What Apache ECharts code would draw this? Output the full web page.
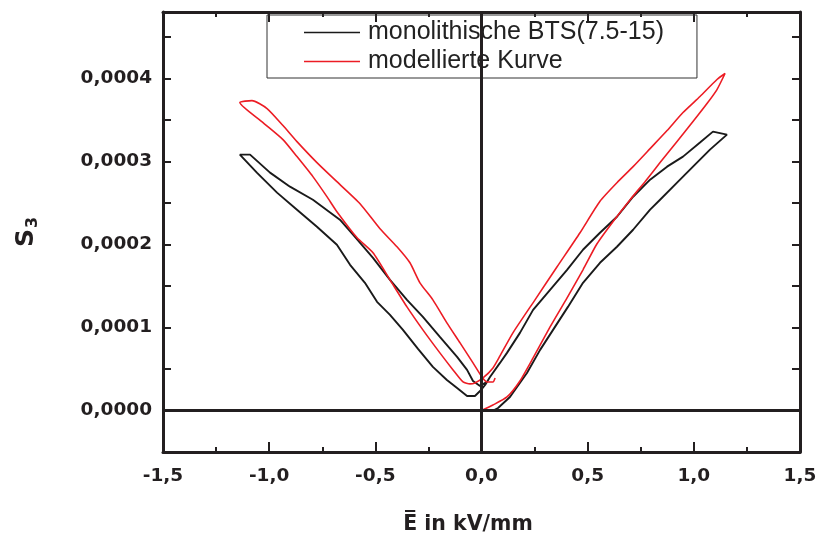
<!DOCTYPE html>
<html>
<head>
<meta charset="utf-8">
<script src="https://cdn.jsdelivr.net/npm/echarts@6/dist/echarts.min.js"></script>
<style>
  html, body { margin: 0; padding: 0; background: #fff; }
  #chart { width: 818px; height: 536px; }
</style>
</head>
<body>
<div id="chart"></div>
<script>
// Field E in kV/mm, strain S3 given in units of 1e-4
const S_UNIT = 1e-4;

// Measured butterfly loop, monolithic BTS(7.5-15)
const btsUpRight = [
  [0.055, 0.0], [0.078, 0.03], [0.134, 0.163], [0.214, 0.452], [0.276, 0.730],
  [0.337, 0.971], [0.407, 1.248], [0.478, 1.538], [0.558, 1.779], [0.638, 1.972],
  [0.714, 2.177], [0.794, 2.419], [0.841, 2.539], [0.921, 2.744], [0.996, 2.937],
  [1.076, 3.142], [1.156, 3.323], [1.160, 3.347]
];
const btsDownRight = [
  [1.090, 3.359], [1.029, 3.227], [0.949, 3.058], [0.874, 2.937], [0.794, 2.780],
  [0.714, 2.575], [0.638, 2.334], [0.558, 2.141], [0.478, 1.936], [0.403, 1.694],
  [0.323, 1.453], [0.243, 1.212], [0.181, 0.935], [0.120, 0.694], [0.087, 0.573],
  [0.040, 0.404], [0.017, 0.307], [-0.002, 0.247], [-0.031, 0.175]
];
const btsUpLeft = [
  [-0.068, 0.175], [-0.115, 0.271], [-0.163, 0.368], [-0.229, 0.525], [-0.299, 0.742],
  [-0.370, 0.971], [-0.431, 1.152], [-0.492, 1.309], [-0.549, 1.538], [-0.619, 1.755],
  [-0.681, 1.996], [-0.775, 2.213], [-0.869, 2.419], [-0.963, 2.624], [-1.058, 2.865],
  [-1.138, 3.082]
];
const btsDownLeft = [
  [-1.090, 3.082], [-0.996, 2.865], [-0.902, 2.696], [-0.794, 2.539], [-0.667, 2.298],
  [-0.605, 2.117], [-0.511, 1.839], [-0.431, 1.574], [-0.351, 1.333], [-0.276, 1.128],
  [-0.196, 0.887], [-0.115, 0.646], [-0.068, 0.489], [-0.040, 0.356], [-0.007, 0.296],
  [0.026, 0.344]
];

// Modelled curve
const modelUpRight = [
  [0.0, 0.0], [0.054, 0.066], [0.120, 0.163], [0.181, 0.356], [0.243, 0.633],
  [0.323, 1.007], [0.403, 1.357], [0.478, 1.695], [0.544, 2.008], [0.619, 2.274],
  [0.700, 2.539], [0.770, 2.756], [0.841, 2.986], [0.921, 3.239], [0.996, 3.480],
  [1.062, 3.697], [1.109, 3.866], [1.147, 4.059]
];
const modelDownRight = [
  [1.109, 3.987], [1.029, 3.782], [0.949, 3.589], [0.874, 3.372], [0.794, 3.154],
  [0.714, 2.937], [0.638, 2.744], [0.558, 2.520], [0.464, 2.141], [0.356, 1.731],
  [0.252, 1.333], [0.148, 0.935], [0.087, 0.657], [0.054, 0.513], [0.007, 0.392],
  [-0.031, 0.332], [-0.054, 0.320], [-0.087, 0.344]
];
const modelUpLeft = [
  [-0.134, 0.489], [-0.196, 0.694], [-0.276, 0.971], [-0.351, 1.248], [-0.431, 1.574],
  [-0.511, 1.900], [-0.586, 2.081], [-0.681, 2.395], [-0.728, 2.576], [-0.794, 2.817],
  [-0.869, 3.058], [-0.935, 3.263], [-1.029, 3.468], [-1.138, 3.709], [-1.081, 3.733]
];
const modelDownLeft = [
  [-1.010, 3.637], [-0.935, 3.432], [-0.869, 3.239], [-0.775, 2.986], [-0.681, 2.756],
  [-0.572, 2.491], [-0.478, 2.189], [-0.398, 1.972], [-0.337, 1.779], [-0.290, 1.538],
  [-0.229, 1.333], [-0.163, 1.056], [-0.101, 0.814], [-0.040, 0.573], [0.002, 0.404],
  [0.026, 0.344], [0.054, 0.344], [0.064, 0.392]
];

const xTicks = { min: -1.5, max: 1.5, step: 0.5 };
const yTicks = { min: -0.00005, max: 0.00048, step: 0.00005 };

const seriesNames = ['monolithische BTS(7.5-15)', 'modellierte Kurve'];

function toPoints(...parts) {
  return [].concat(...parts).map(p => [p[0], p[1] * S_UNIT]);
}

const blackPath = toPoints(btsUpRight, btsDownRight, btsUpLeft, btsDownLeft);
const redPath = toPoints(modelUpRight, modelDownRight, modelUpLeft, modelDownLeft);

const INK = '#231f20';
const boldFont = "'DejaVu Sans', 'Liberation Sans', sans-serif";
const legendFont = "'Liberation Sans', Arial, sans-serif";

function yLabel(v) {
  const k = Math.round(v / yTicks.step);
  if (Math.abs(v - k * yTicks.step) > 1e-9) return '';
  if (k < 0 || k % 2 !== 0) return '';
  return (k * yTicks.step).toFixed(4).replace('.', ',');
}

const baseX = {
  type: 'value', min: xTicks.min, max: xTicks.max, interval: xTicks.step,
  axisLine: { show: true, onZero: false, lineStyle: { color: INK, width: 3 } },
  axisTick: { show: true, inside: true, length: 10, lineStyle: { color: INK, width: 2 } },
  minorTick: { show: true, splitNumber: 2, length: 5, lineStyle: { color: INK, width: 2 } },
  splitLine: { show: false }
};
const baseY = {
  type: 'value', min: yTicks.min, max: yTicks.max, interval: yTicks.step,
  axisLine: { show: true, onZero: false, lineStyle: { color: INK, width: 3 } },
  axisTick: { show: true, inside: true, length: 8, lineStyle: { color: INK, width: 2 } },
  splitLine: { show: false }
};

const chart = echarts.init(document.getElementById('chart'), null, { renderer: 'canvas' });
chart.setOption({
  animation: false,
  backgroundColor: '#ffffff',
  grid: { left: 163, right: 18, top: 12, bottom: 84, containLabel: false, outerBoundsMode: 'none' },
  legend: {
    left: 267, top: 15,
    orient: 'vertical',
    data: seriesNames,
    icon: 'rect',
    itemWidth: 56, itemHeight: 1.6, itemGap: 0,
    padding: [3, 33, 2, 37],
    borderColor: '#333', borderWidth: 1, borderRadius: 0,
    textStyle: { fontFamily: legendFont, fontSize: 25, color: '#222', lineHeight: 29, padding: [0, 0, 0, 3] }
  },
  xAxis: [
    Object.assign({}, baseX, {
      position: 'bottom',
      axisLabel: {
        show: true, margin: 15, color: INK, fontFamily: boldFont, fontWeight: 'bold', fontSize: 18.5,
        formatter: v => v.toFixed(1).replace('.', ',')
      },
      name: 'E\u0305 in kV/mm',
      nameLocation: 'middle', nameGap: 62,
      nameTextStyle: { color: INK, fontFamily: boldFont, fontWeight: 'bold', fontSize: 20.5, padding: [0, 27, 0, 0] }
    }),
    Object.assign({}, baseX, { position: 'top', axisLabel: { show: false } })
  ],
  yAxis: [
    Object.assign({}, baseY, {
      position: 'left',
      axisLabel: {
        show: true, margin: 11, color: INK, fontFamily: boldFont, fontWeight: 'bold', fontSize: 18.5,
        formatter: yLabel
      },
      name: '{s|S}{sub|3}',
      nameLocation: 'middle', nameGap: 122, nameRotate: 90,
      nameTextStyle: {
        rich: {
          s: { fontFamily: boldFont, fontWeight: 'bold', fontSize: 25, color: INK },
          sub: { fontFamily: boldFont, fontWeight: 'bold', fontSize: 16, color: INK, verticalAlign: 'bottom', padding: [14, 0, 0, 1] }
        }
      }
    }),
    Object.assign({}, baseY, { position: 'right', axisLabel: { show: false } })
  ],
  series: [
    {
      name: seriesNames[0], type: 'line', data: blackPath,
      xAxisIndex: 0, yAxisIndex: 0,
      showSymbol: false, symbol: 'none', smooth: false,
      color: '#1a1a1a',
      lineStyle: { color: '#1a1a1a', width: 1.9 },
      markLine: {
        silent: true, symbol: 'none', label: { show: false },
        lineStyle: { color: INK, width: 3, type: 'solid' },
        data: [{ xAxis: 0 }, { yAxis: 0 }]
      },
      z: 3
    },
    {
      name: seriesNames[1], type: 'line', data: redPath,
      xAxisIndex: 0, yAxisIndex: 0,
      showSymbol: false, symbol: 'none', smooth: 0.2,
      color: '#ec1c24',
      lineStyle: { color: '#ec1c24', width: 1.6 },
      z: 4
    }
  ]
});
</script>
</body>
</html>
